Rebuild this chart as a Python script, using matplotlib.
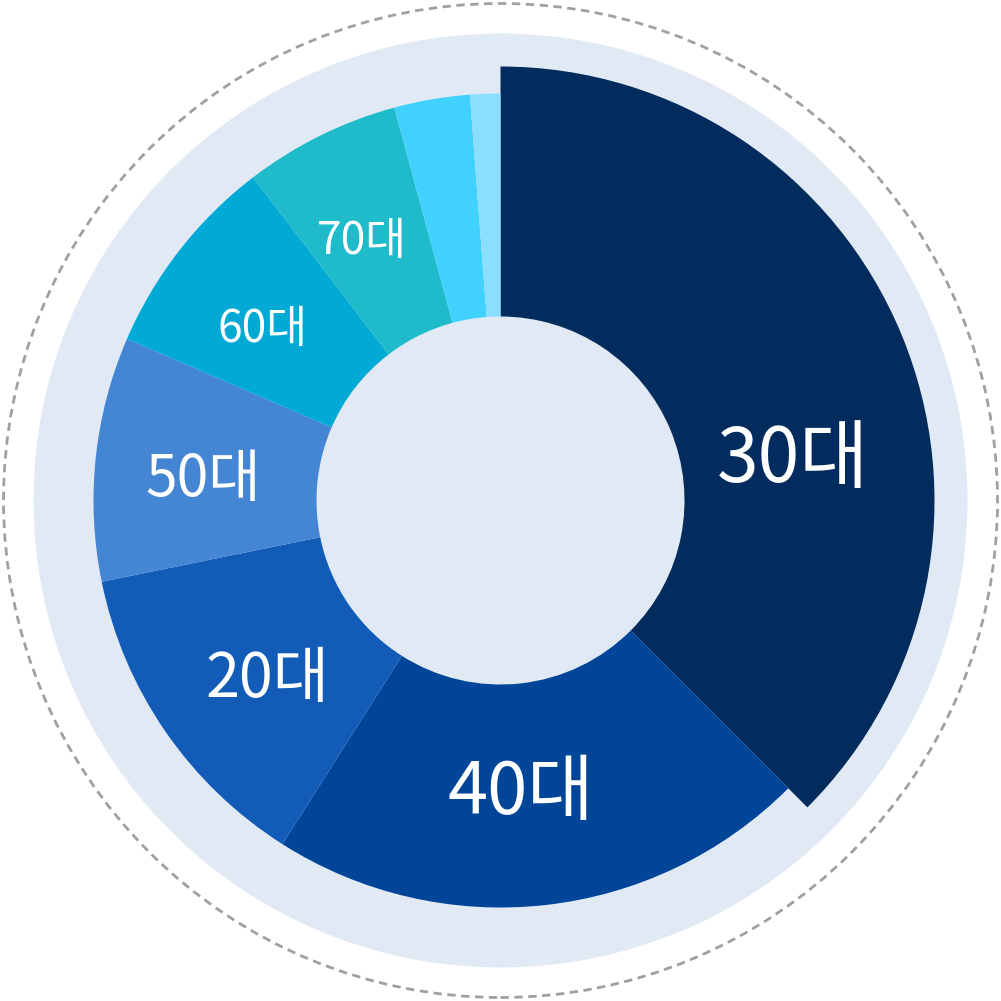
import matplotlib.pyplot as plt
from matplotlib.patches import Circle

plt.rcParams['font.family'] = ['Noto Sans CJK KR', 'DejaVu Sans']

# -------------------------
# data
# -------------------------

labels = ["30대", "40대", "20대", "50대", "60대", "70대", "", ""]
values = [37.5, 21.5, 12.8, 9.7, 8.1, 6.2, 3.0, 1.2]
colors = ["#022C5E", "#004598", "#125CB8", "#4485D4",
          "#00AAD4", "#20BBCA", "#40D1FF", "#8ADFFF"]

# -------------------------
# layout
# -------------------------

r_out = 407
r_big = 434
r_in = 184
label_pos = [(292, 49), (20, -285), (-233, -172), (-297, 27), (-238, 176), (-139, 264)]
label_size = [54, 52, 44, 41, 32, 32]

fig = plt.figure(figsize=(10.01, 10.01), dpi=100)
ax = fig.add_axes([0, 0, 1, 1])

# backdrop
ax.add_patch(Circle((0, 0), 497, fill=False, ec="#A0A0A0", lw=2.0,
                    ls=(0, (3, 2)), zorder=0))
ax.add_patch(Circle((0, 0), 467, fc="#E1EAF4", ec="none", zorder=0))

wedges, _ = ax.pie(values, colors=colors, radius=r_out, startangle=90,
                   counterclock=False, frame=True,
                   wedgeprops=dict(width=r_out - r_in, lw=0))
# first slice sticks out
wedges[0].set_radius(r_big)
wedges[0].set_width(r_big - r_in)

ax.set_xlim(-500.5, 500.5)
ax.set_ylim(-500.5, 500.5)
ax.set_aspect("equal")
ax.axis("off")

for lab, (x, y), fs in zip(labels, label_pos, label_size):
    ax.text(x, y, lab, color="white", fontsize=fs, ha="center",
            va="center_baseline")

fig.savefig("out.png", dpi=100, facecolor="white")
